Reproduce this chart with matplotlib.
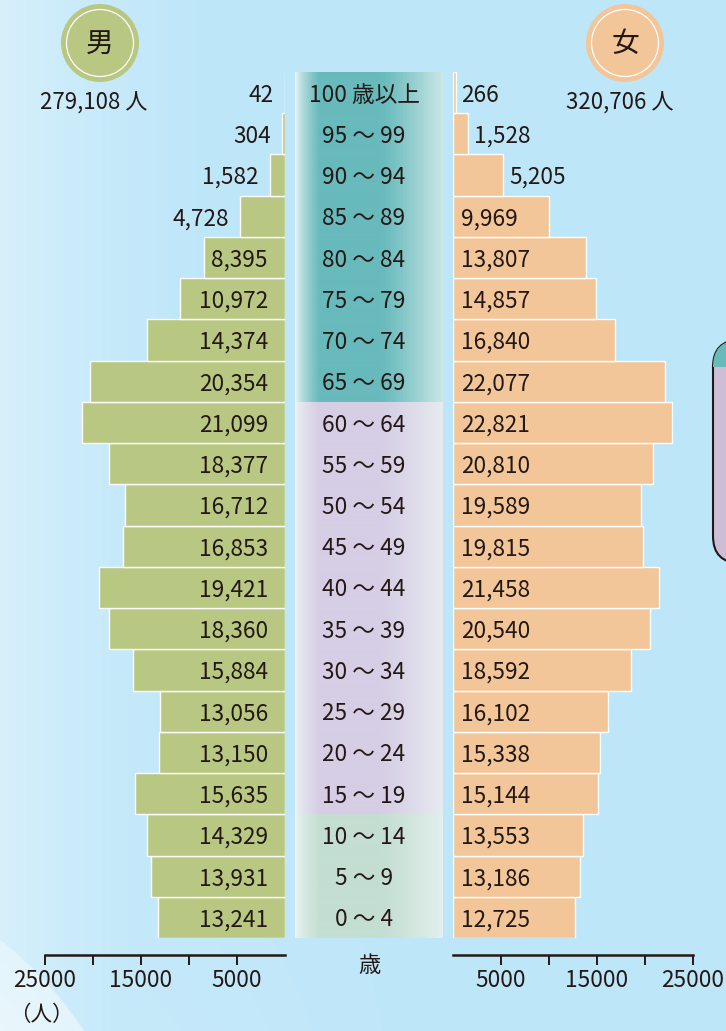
import numpy as np
import matplotlib
matplotlib.use('Agg')
import matplotlib.pyplot as plt
from matplotlib.patches import Circle, FancyBboxPatch, Rectangle

plt.rcParams['font.family'] = ['Noto Sans CJK JP', 'DejaVu Sans']

# data (bottom row first)
age_groups = ['0 ～ 4', '5 ～ 9', '10 ～ 14', '15 ～ 19', '20 ～ 24', '25 ～ 29',
              '30 ～ 34', '35 ～ 39', '40 ～ 44', '45 ～ 49', '50 ～ 54', '55 ～ 59',
              '60 ～ 64', '65 ～ 69', '70 ～ 74', '75 ～ 79', '80 ～ 84', '85 ～ 89',
              '90 ～ 94', '95 ～ 99', '100 歳以上']
male = [13241, 13931, 14329, 15635, 13150, 13056, 15884, 18360, 19421, 16853,
        16712, 18377, 21099, 20354, 14374, 10972, 8395, 4728, 1582, 304, 42]
female = [12725, 13186, 13553, 15144, 15338, 16102, 18592, 20540, 21458, 19815,
          19589, 20810, 22821, 22077, 16840, 14857, 13807, 9969, 5205, 1528, 266]
male_total = '279,108 人'
female_total = '320,706 人'
tick_vals = [5000, 10000, 15000, 20000, 25000]
tick_labels = ['5000', '', '15000', '', '25000']

W, H = 726, 1031
TXT = '#231815'
MALE_C = '#b8c882'
FEMALE_C = '#f2c699'
FS = 16.3


def px(x0, y0, x1, y1):
    return [x0 / W, 1 - y1 / H, (x1 - x0) / W, (y1 - y0) / H]


fig = plt.figure(figsize=(W / 100, H / 100), dpi=100)

# background
ax_bg = fig.add_axes([0, 0, 1, 1])
xx, yy = np.meshgrid(np.arange(W), np.arange(H))
base = np.array([189, 230, 249]) / 255.0
l_edge = 0.38 * np.clip(1 - xx / 240.0, 0, 1) ** 1.5
d = np.hypot(xx + 250, yy - 1250)
l_circ = 0.72 * np.clip((400 - d) / 4 + 0.5, 0, 1) * np.clip(0.8 + (400 - d) / 500, 0, 1)
l_bot = 0.2 * np.clip((yy - 650) / 380.0, 0, 1) * np.clip(1 - xx / 450.0, 0, 1)
L = np.maximum(np.maximum(l_edge, l_circ), l_bot)[..., None]
bg = base * (1 - L) + L
ax_bg.imshow(bg, extent=[0, W, H, 0], aspect='auto')
ax_bg.set_xlim(0, W)
ax_bg.set_ylim(H, 0)
ax_bg.axis('off')

# header circles
for cx, cy, col, ch in [(100, 43, MALE_C, '男'), (625, 43, FEMALE_C, '女')]:
    ax_bg.add_patch(Circle((cx, cy), 39, fc=col, ec='none'))
    ax_bg.add_patch(Circle((cx, cy), 33.5, fill=False, ec='white', lw=0.9))
    ax_bg.text(cx, cy + 1, ch, fontsize=20, color=TXT, ha='center', va='center')
ax_bg.text(94, 103, male_total, fontsize=16, color=TXT, ha='center', va='center')
ax_bg.text(620, 103, female_total, fontsize=16, color=TXT, ha='center', va='center')
ax_bg.text(369, 965, '歳', fontsize=16, color=TXT, ha='center', va='center')
ax_bg.text(41, 1015, '（人）', fontsize=15.5, color=TXT, ha='center', va='center')

# partial legend box at the right edge
box = FancyBboxPatch((713, 340), 80, 223, boxstyle='round,pad=0,rounding_size=27',
                     fc='#cdbed6', ec=TXT, lw=1.5, zorder=2)
ax_bg.add_patch(box)
strip = Rectangle((713, 340), 80, 27, fc='#6ab9bb', ec='none', zorder=2)
ax_bg.add_patch(strip)
strip.set_clip_path(box)

# middle column with age labels
ax_mid = fig.add_axes(px(295, 72, 443, 938))
n = len(age_groups)
u = np.linspace(0, 1, 148)
a = np.minimum(np.clip(u / 0.16, 0, 1) ** 0.7,
               1 - 0.75 * np.clip((u - 0.58) / 0.42, 0, 1) ** 1.2)
sec_cols = [(np.array([196, 222, 210]) / 255.0, 3),
            (np.array([214, 206, 229]) / 255.0, 10),
            (np.array([104, 186, 188]) / 255.0, 8)]
rows = []
for c, k in sec_cols:
    strip_row = (1 - a)[:, None] * np.array([0.93, 0.96, 0.96]) + a[:, None] * c
    rows.append(np.repeat(strip_row[None, :, :], k * 40, axis=0))
col_img = np.concatenate(rows[::-1], axis=0)
ax_mid.imshow(col_img, extent=[0, 1, -0.5, n - 0.5], aspect='auto')
ax_mid.set_xlim(0, 1)
ax_mid.set_ylim(-0.5, n - 0.5)
ax_mid.axis('off')
for i, lab in enumerate(age_groups):
    ax_mid.text(0.466, i, lab, fontsize=FS, color=TXT, ha='center', va='center_baseline')

ypos = np.arange(n)

# male side
ax_m = fig.add_axes(px(45, 72, 285, 938))
ax_m.barh(ypos, male, height=1, color=MALE_C, edgecolor='white', linewidth=1)
ax_m.set_xlim(25000, 0)
for i, v in enumerate(male):
    s = f'{v:,}'
    if v >= 7000:
        ax_m.annotate(s, xy=(0, i), xytext=(-17, 0), textcoords='offset pixels',
                      ha='right', va='center_baseline', fontsize=FS, color=TXT)
    else:
        ax_m.annotate(s, xy=(v, i), xytext=(-11, 0), textcoords='offset pixels',
                      ha='right', va='center_baseline', fontsize=FS, color=TXT)

# female side
ax_f = fig.add_axes(px(453, 72, 693, 938))
ax_f.barh(ypos, female, height=1, color=FEMALE_C, edgecolor='white', linewidth=1)
ax_f.set_xlim(0, 25000)
for i, v in enumerate(female):
    s = f'{v:,}'
    if v >= 7000:
        ax_f.annotate(s, xy=(0, i), xytext=(8, 0), textcoords='offset pixels',
                      ha='left', va='center_baseline', fontsize=FS, color=TXT)
    else:
        ax_f.annotate(s, xy=(v, i), xytext=(6, 0), textcoords='offset pixels',
                      ha='left', va='center_baseline', fontsize=FS, color=TXT)

for ax in (ax_m, ax_f):
    ax.set_ylim(-0.5, n - 0.5)
    ax.patch.set_alpha(0)
    for sp in ('left', 'right', 'top'):
        ax.spines[sp].set_visible(False)
    ax.spines['bottom'].set_position(('outward', 12.2))
    ax.spines['bottom'].set_linewidth(1.8)
    ax.spines['bottom'].set_color(TXT)
    ax.set_yticks([])
    ax.set_xticks(tick_vals)
    ax.set_xticklabels(tick_labels)
    ax.tick_params(axis='x', direction='out', length=7.2, width=1.4, pad=3,
                   labelsize=FS, colors=TXT)

fig.savefig('out.png', dpi=100)
